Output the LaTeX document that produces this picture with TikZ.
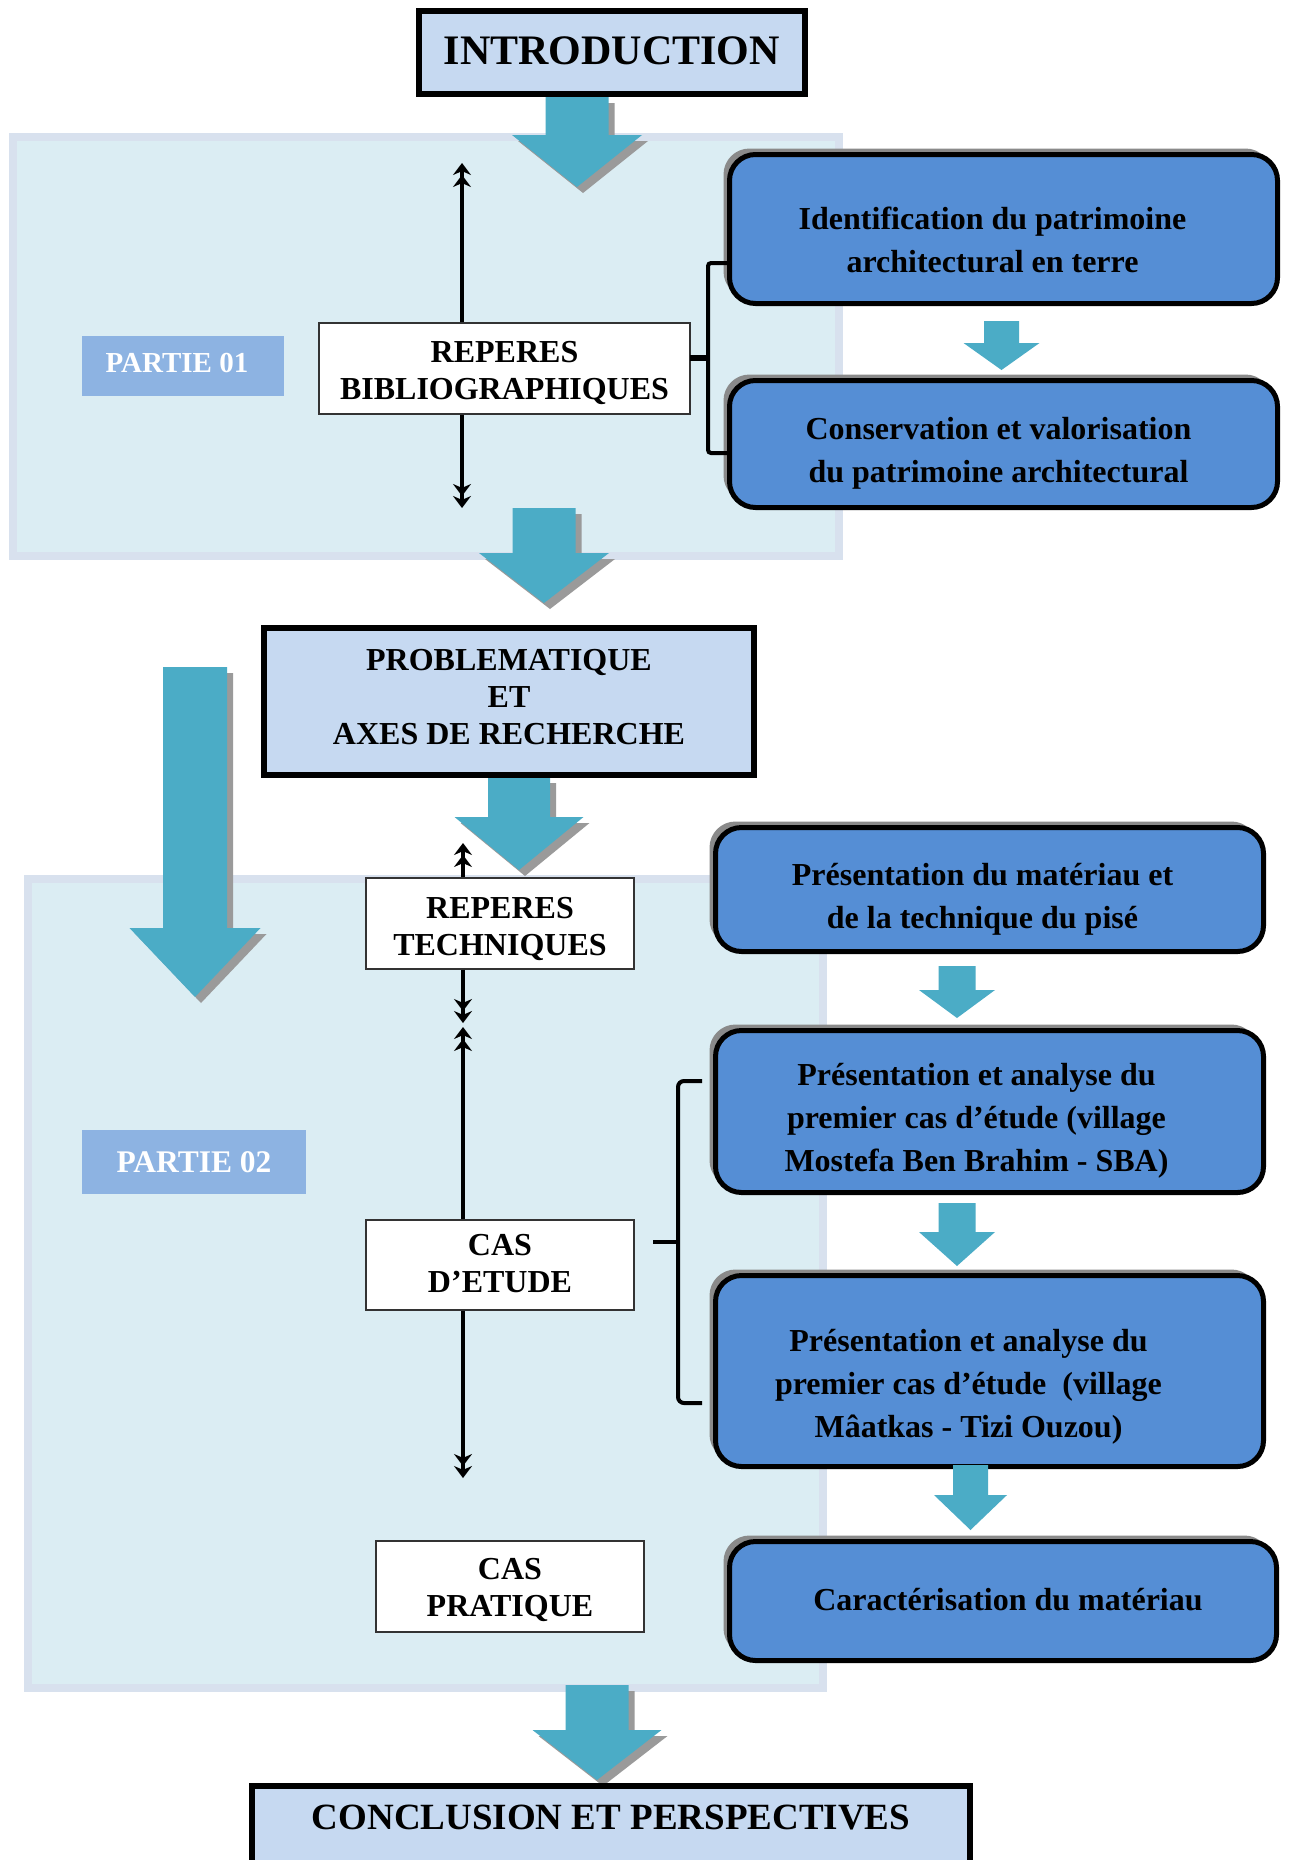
\documentclass[tikz,border=0pt]{standalone}
\usepackage{fontspec}
\setmainfont{Liberation Serif}
\usetikzlibrary{arrows.meta,calc,shadows}
\definecolor{bgfill}{HTML}{DBEDF3}
\definecolor{bgedge}{HTML}{D8E1EE}
\definecolor{hdrfill}{HTML}{C6D9F1}
\definecolor{lblfill}{HTML}{8DB3E2}
\definecolor{rfill}{HTML}{558ED5}
\definecolor{tealA}{HTML}{4BACC6}
\definecolor{shgray}{HTML}{9A9A9A}
\definecolor{rshadow}{HTML}{8A8A8A}
% #1 options, #2 start coordinate, #3 tip coordinate, #4 shaft half width,
% #5 head half width, #6 head length, #7 #8 offset
\newcommand\blockarr[8][]{%
  \fill[#1] let \p1=($(#2)+(#7,#8)$), \p2=($(#3)+(#7,#8)$) in
    (\x2-#4pt,\y1) -- (\x2+#4pt,\y1) -- (\x2+#4pt,\y2+#6pt) -- (\x2+#5pt,\y2+#6pt)
    -- (\x2,\y2) -- (\x2-#5pt,\y2+#6pt) -- (\x2-#4pt,\y2+#6pt) -- cycle;}
\newcommand\bigarr[5]{%
  \blockarr[shgray]{#1}{#2}{#3}{#4}{#5}{6}{6}%
  \blockarr[tealA]{#1}{#2}{#3}{#4}{#5}{0}{0}}
% text block moved by (#1 right, #2 down) without changing its reserved size
\newcommand\mv[3]{\raisebox{-#2}[\height][\depth]{\setbox0\hbox{\begin{tabular}{@{}c@{}}#3\end{tabular}}\hbox to \wd0{\kern#1\box0\hss}}}
\begin{document}
\begin{tikzpicture}[x=1pt,y=-1pt,
  hdr/.style={draw=black,line width=6pt,fill=hdrfill,inner sep=4pt},
  wbox/.style={draw=black!80,line width=1.3pt,fill=white,inner sep=2pt,
    font=\fontsize{32}{37}\selectfont\bfseries},
  lbl/.style={fill=lblfill,text=white,inner sep=0pt},
  rbox/.style={draw=black,line width=5pt,fill=rfill,rounded corners=26pt,
    inner sep=2pt,font=\fontsize{32}{43}\selectfont\bfseries,
    drop shadow={shadow xshift=-6pt,shadow yshift=6pt,fill=rshadow,opacity=1}},
  dbl/.style={line width=3.4pt,-{Stealth[length=12pt,width=18pt]Stealth[length=12pt,width=18pt]}},
  brk/.style={line width=4pt,rounded corners=6pt},
  stub/.style={line width=6pt}]
\fill[white] (0,0) rectangle (1290,1860);
\useasboundingbox (0,0) rectangle (1290,1860);
% part backgrounds
\draw[draw=bgedge,fill=bgfill,line width=8pt] (13,137) rectangle (839,556);
\draw[draw=bgedge,fill=bgfill,line width=8pt] (28,879) rectangle (823,1688);
% coordinates for block arrows
\coordinate (a1s) at (577,97);   \coordinate (a1t) at (577,187);
\coordinate (a2s) at (544,508);  \coordinate (a2t) at (544,603);
\coordinate (a3s) at (519,777);  \coordinate (a3t) at (519,870);
\coordinate (a4s) at (195,667);  \coordinate (a4t) at (195,997);
\coordinate (a5s) at (597,1685); \coordinate (a5t) at (597,1780);
\bigarr{a1s}{a1t}{31.5}{65}{52}
\bigarr{a2s}{a2t}{31.5}{65}{50}
\bigarr{a3s}{a3t}{31}{64.5}{53}
\bigarr{a4s}{a4t}{32}{65.5}{69}
\bigarr{a5s}{a5t}{31.5}{64.5}{50}
% header boxes
\node[hdr,minimum width=386pt,minimum height=83pt,font=\fontsize{42}{50}\selectfont\bfseries]
  (intro) at (612,52.5) {\mv{0pt}{2pt}{INTRODUCTION}};
\node[hdr,minimum width=490pt,minimum height=147pt,font=\fontsize{32}{37}\selectfont\bfseries]
  (prob) at (509,701.5) {\mv{0pt}{-1pt}{PROBLEMATIQUE\\ET\\AXES DE RECHERCHE}};
\node[hdr,anchor=north,minimum width=718pt,text height=37pt,text depth=65pt,inner ysep=6pt,
  font=\fontsize{37}{44}\selectfont\bfseries] (concl) at (611,1783) {CONCLUSION ET PERSPECTIVES};
% part labels
\node[lbl,minimum width=202pt,minimum height=60pt,font=\fontsize{29}{34}\selectfont\bfseries]
  (p1) at (183,366) {\mv{-6pt}{0pt}{PARTIE 01}};
\node[lbl,minimum width=224pt,minimum height=64pt,font=\fontsize{31.5}{36}\selectfont\bfseries]
  (p2) at (194,1162) {PARTIE 02};
% white boxes
\node[wbox,minimum width=371pt,minimum height=91pt] (rb) at (504.5,368.5)
  {\mv{0pt}{5pt}{REPERES\\BIBLIOGRAPHIQUES}};
\node[wbox,minimum width=268pt,minimum height=91pt] (rt) at (500,923.5)
  {\mv{0pt}{6pt}{REPERES\\TECHNIQUES}};
\node[wbox,minimum width=268pt,minimum height=90pt] (ce) at (500,1265)
  {\mv{0pt}{2pt}{CAS\\D’ETUDE}};
\node[wbox,minimum width=268pt,minimum height=91pt] (cp) at (510,1586.5)
  {\mv{0pt}{4pt}{CAS\\PRATIQUE}};
% rounded boxes
\node[rbox,minimum width=548pt,minimum height=149pt] (r1) at (1003.5,229)
  {\mv{-11pt}{13pt}{Identification du patrimoine\\architectural en terre}};
\node[rbox,minimum width=548pt,minimum height=127pt] (r2) at (1003.5,444)
  {\mv{-5pt}{8pt}{Conservation et valorisation\\du patrimoine architectural}};
\node[rbox,minimum width=548pt,minimum height=124pt] (r3) at (989.5,889.5)
  {\mv{-7pt}{9pt}{Présentation du matériau et\\de la technique du pisé}};
\node[rbox,minimum width=548pt,minimum height=162pt] (r4) at (989.5,1111.5)
  {\mv{-13pt}{8pt}{Présentation et analyse du\\premier cas d’étude (village\\Mostefa Ben Brahim - SBA)}};
\node[rbox,minimum width=548pt,minimum height=191pt] (r5) at (989.5,1371)
  {\mv{-21pt}{15pt}{Présentation et analyse du\\premier cas d’étude\ \ (village\\Mâatkas - Tizi Ouzou)}};
\node[rbox,minimum width=547pt,minimum height=119pt] (r6) at (1003,1601)
  {\mv{5pt}{1pt}{Caractérisation du matériau}};
% small arrows
\coordinate (s1s) at (1001.5,321); \coordinate (s1t) at (1001.5,370);
\coordinate (s2s) at (957,966);    \coordinate (s2t) at (957,1018);
\coordinate (s3s) at (957,1203);   \coordinate (s3t) at (957,1266);
\coordinate (s4s) at (970.5,1465); \coordinate (s4t) at (970.5,1530);
\blockarr[tealA]{s1s}{s1t}{17.5}{38}{27}{0}{0}
\blockarr[tealA]{s2s}{s2t}{18.5}{38}{28}{0}{0}
\blockarr[tealA]{s3s}{s3t}{18.5}{38}{34}{0}{0}
\blockarr[tealA]{s4s}{s4t}{17.5}{36.5}{35}{0}{0}
% vertical double arrows
\coordinate (lx) at (462,0);
\coordinate (t1) at (462,163);  \coordinate (t2) at (462,508);
\coordinate (t3) at (463,843);  \coordinate (t4) at (463,1023);
\coordinate (t5) at (463,1027); \coordinate (t6) at (463,1478);
\coordinate (lx2) at (463,0);
\draw[dbl] (lx |- rb.north) -- (t1);
\draw[dbl] (lx |- rb.south) -- (t2);
\draw[dbl] (lx2 |- rt.north) -- (t3);
\draw[dbl] (lx2 |- rt.south) -- (t4);
\draw[dbl] (lx2 |- ce.north) -- (t5);
\draw[dbl] (lx2 |- ce.south) -- (t6);
% brackets
\coordinate (b1a) at (730,263); \coordinate (b1b) at (708,263);
\coordinate (b1c) at (708,453); \coordinate (b1d) at (730,453);
\coordinate (b1m) at (708,358); \coordinate (b1s) at (690,358);
\draw[brk,rounded corners=3pt] (b1a) -- (b1b) -- (b1c) -- (b1d);
\draw[stub] (b1s) -- (b1m);
\coordinate (b2a) at (702,1081); \coordinate (b2b) at (678,1081);
\coordinate (b2c) at (678,1403); \coordinate (b2d) at (702,1403);
\coordinate (b2m) at (678,1242); \coordinate (b2s) at (653,1242);
\draw[brk] (b2a) -- (b2b) -- (b2c) -- (b2d);
\draw[line width=4pt] (b2s) -- (b2m);
\end{tikzpicture}
\end{document}
